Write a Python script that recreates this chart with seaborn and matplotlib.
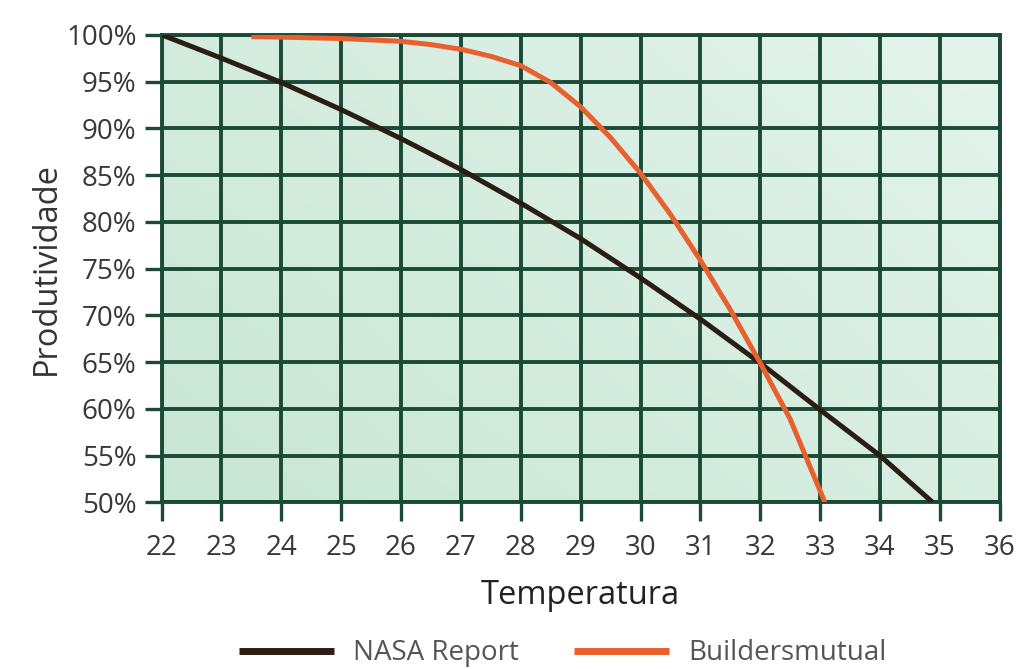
import numpy as np
import pandas as pd
import matplotlib
matplotlib.use("Agg")
import matplotlib.pyplot as plt
import seaborn as sns
from matplotlib.colors import LinearSegmentedColormap

# values
nasa_temp = [22, 23, 24, 25, 26, 27, 28, 29, 30, 31, 32, 33, 34, 34.88]
nasa_prod = [100, 97.5, 94.9, 92.0, 88.9, 85.6, 82.0, 78.2, 74.0, 69.6, 64.9, 59.9, 55.0, 50]

bm_temp = [23.5, 24, 25, 26, 26.5, 27, 27.5, 28, 28.5, 29, 29.5, 30, 30.5, 31, 31.5, 32, 32.5, 33.08]
bm_prod = [99.8, 99.75, 99.6, 99.3, 98.95, 98.45, 97.7, 96.7, 94.9, 92.3, 89.0, 85.2, 80.8, 75.9, 70.6, 64.9, 58.9, 50]

series_names = ["NASA Report", "Buildersmutual"]
series_colors = ["#2b1d14", "#e8602e"]

x_ticks = list(range(22, 37))
y_ticks = list(range(50, 101, 5))
y_tick_labels = [f"{v}%" for v in y_ticks]

df = pd.concat([
    pd.DataFrame({"Temperatura": nasa_temp, "Produtividade": nasa_prod, "serie": series_names[0]}),
    pd.DataFrame({"Temperatura": bm_temp, "Produtividade": bm_prod, "serie": series_names[1]}),
])

sns.set_style("white")
plt.rcParams["font.family"] = ["Open Sans", "DejaVu Sans"]

grid_col = "#1b4a35"
fig = plt.figure(figsize=(10.16, 6.69), dpi=100)
ax = fig.add_axes([0.159, 0.249, 0.825, 0.699])

# gradient background
gx, gy = np.meshgrid(np.linspace(0, 1, 200), np.linspace(0, 1, 200))
grad = 0.6 * gx + 0.4 * gy
cmap = LinearSegmentedColormap.from_list("bg", ["#c8e6d4", "#e3f4ec"])
ax.imshow(grad, extent=[22, 36, 50, 100], origin="lower", aspect="auto",
          cmap=cmap, zorder=0)

sns.lineplot(data=df, x="Temperatura", y="Produtividade", hue="serie",
             palette=dict(zip(series_names, series_colors)), linewidth=3.6,
             sort=False, estimator=None, ax=ax, zorder=3,
             solid_joinstyle="round", solid_capstyle="butt")

ax.set_xlim(22, 36)
ax.set_ylim(50, 100)
ax.set_xticks(x_ticks)
ax.set_yticks(y_ticks)
ax.set_yticklabels(y_tick_labels)
ax.grid(True, color=grid_col, linewidth=2.8, zorder=1)
ax.set_axisbelow(False)
for gl in ax.get_xgridlines() + ax.get_ygridlines():
    gl.set_zorder(1)
for s in ax.spines.values():
    s.set_color(grid_col)
    s.set_linewidth(2.8)
    s.set_zorder(1)

ax.tick_params(axis="x", direction="out", length=14, width=2.4, color=grid_col,
               labelsize=20, labelcolor="#383838", pad=9)
ax.tick_params(axis="y", direction="out", length=12, width=2.4, color=grid_col,
               labelsize=20, labelcolor="#383838", pad=6)
ax.tick_params(left=True, bottom=True)

ax.set_xlabel("Temperatura", fontsize=23.5, color="#222222", labelpad=12)
ax.set_ylabel("Produtividade", fontsize=23.5, color="#333333", labelpad=2)

handles, labels = ax.get_legend_handles_labels()
ax.get_legend().remove()
for h in handles:
    h.set_linewidth(5)
fig.legend(handles, labels, loc="lower center", bbox_to_anchor=(0.554, -0.035),
           ncol=2, frameon=False, fontsize=20, handlelength=3.4,
           columnspacing=2.0, handletextpad=0.7, labelcolor="#555555")

fig.savefig("out.png", dpi=100)
